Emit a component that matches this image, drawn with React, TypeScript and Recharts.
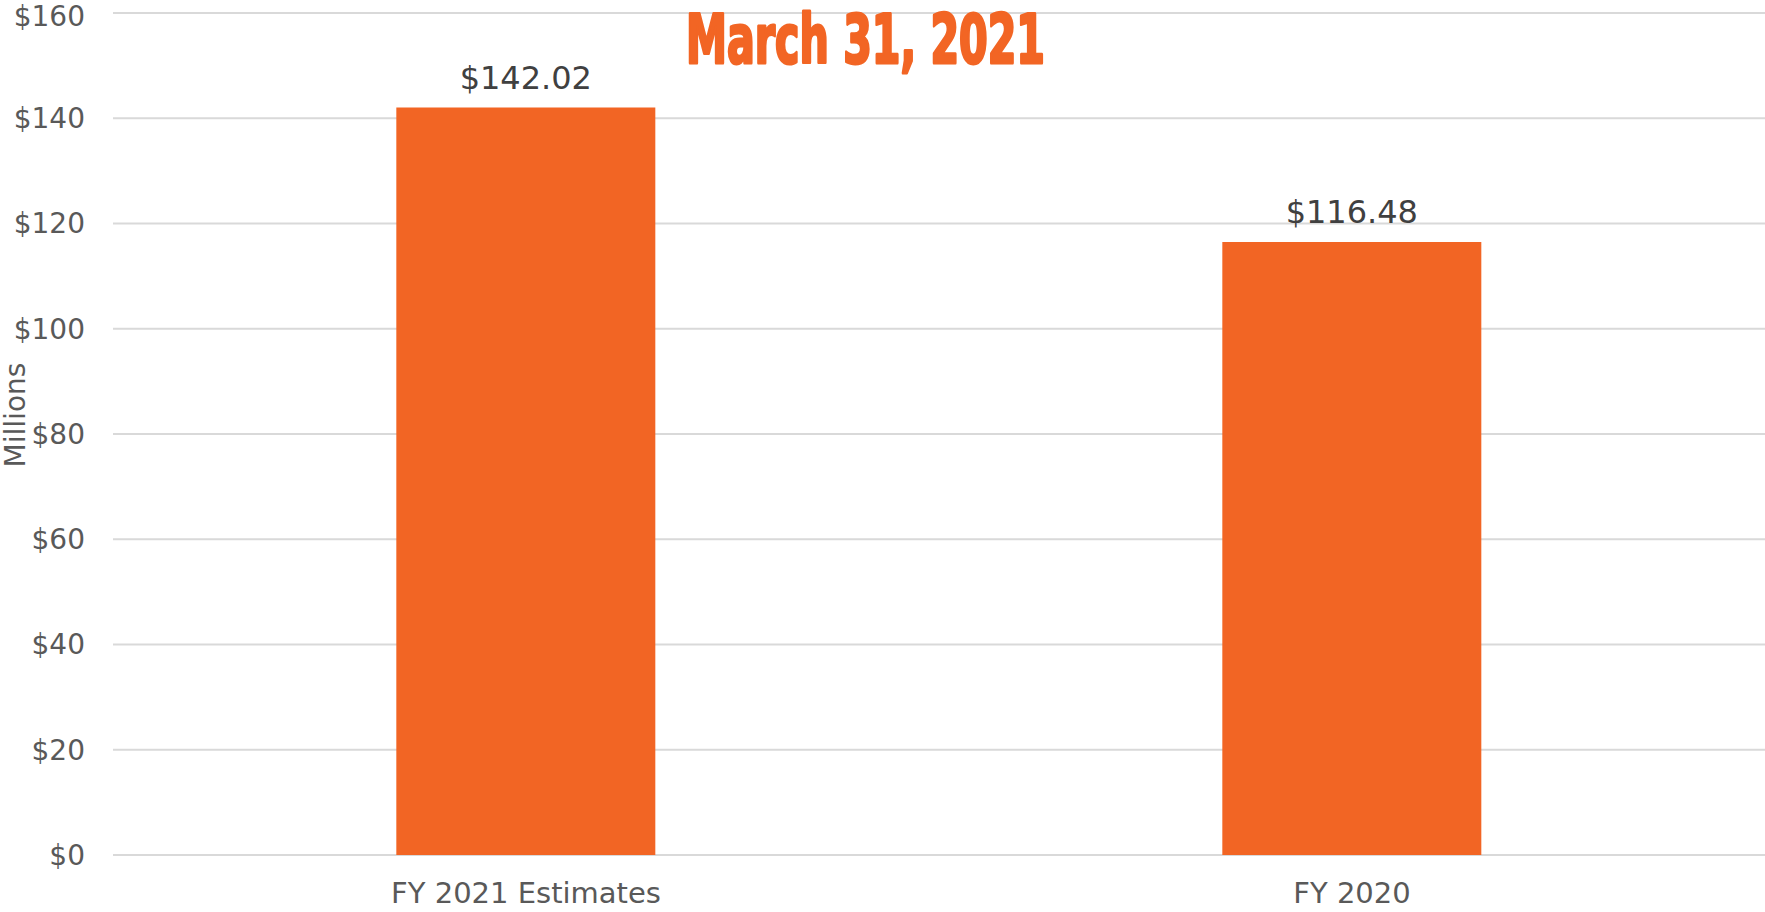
import React from 'react';
import { BarChart, Bar, XAxis, YAxis, CartesianGrid, LabelList, Label } from 'recharts';

const categories = ['FY 2021 Estimates', 'FY 2020'];
const amounts = [142.02, 116.48];
const yTicks = [0, 20, 40, 60, 80, 100, 120, 140, 160];
const title = 'March 31, 2021';

const ORANGE = '#F26524';
const FONT = 'Verdana, "DejaVu Sans", sans-serif';

const data = categories.map((name, i) => ({ name, value: amounts[i] }));

const MillionsLabel = ({ viewBox }: any) => {
  const bx = viewBox.x + 25;
  const by = viewBox.y + viewBox.height / 2 - 19;
  return (
    <text
      x={bx}
      y={by}
      transform={`rotate(-90 ${bx} ${by})`}
      textAnchor="middle"
      fill="#595959"
      fontSize={28}
      fontFamily={FONT}
    >
      Millions
    </text>
  );
};

const App = () => {
  return (
    <div style={{ position: 'absolute', left: 0, top: 0, width: 1765, height: 912, background: '#fff' }}>
      <BarChart
        width={1765}
        height={912}
        data={data}
        margin={{ top: 13, right: 0, bottom: 0, left: 0 }}
        barCategoryGap="34.3%"
      >
        <CartesianGrid vertical={false} stroke="#D9D9D9" strokeWidth={2} />
        <XAxis
          dataKey="name"
          height={57}
          axisLine={false}
          tickLine={false}
          tickSize={0}
          tickMargin={27}
          tick={{ fill: '#595959', fontSize: 29, fontFamily: FONT }}
        />
        <YAxis
          width={113}
          domain={[0, 160]}
          ticks={yTicks}
          axisLine={false}
          tickLine={false}
          tickSize={0}
          tickMargin={28}
          tickFormatter={(v: number) => `$${v}`}
          tick={{ fill: '#595959', fontSize: 28, fontFamily: FONT }}
        >
          <Label content={<MillionsLabel />} />
        </YAxis>
        <Bar dataKey="value" fill={ORANGE} isAnimationActive={false}>
          <LabelList
            dataKey="value"
            position="top"
            offset={19}
            formatter={(v: any) => `$${Number(v).toFixed(2)}`}
            fill="#404040"
            fontSize={32}
            fontFamily={FONT}
          />
        </Bar>
      </BarChart>
      <svg
        width={1765}
        height={912}
        style={{ position: 'absolute', left: 0, top: 0, pointerEvents: 'none' }}
      >
        <text
          x={686}
          y={63}
          textLength={359}
          lengthAdjust="spacingAndGlyphs"
          fill={ORANGE}
          stroke={ORANGE}
          strokeWidth={3}
          strokeLinejoin="round"
          fontSize={68}
          fontWeight="bold"
          fontFamily='"Liberation Sans Narrow", "DejaVu Sans Condensed", "Liberation Sans", sans-serif'
        >
          {title}
        </text>
      </svg>
    </div>
  );
};

export default App;
